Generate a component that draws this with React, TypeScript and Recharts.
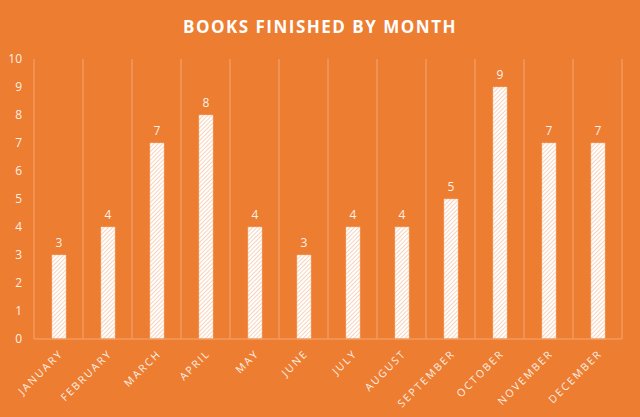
import React from "react";
import { BarChart, Bar, XAxis, YAxis, CartesianGrid, LabelList } from "recharts";

const months = ["JANUARY", "FEBRUARY", "MARCH", "APRIL", "MAY", "JUNE", "JULY", "AUGUST", "SEPTEMBER", "OCTOBER", "NOVEMBER", "DECEMBER"];
const books = [3, 4, 7, 8, 4, 3, 4, 4, 5, 9, 7, 7];
const yTicks = [0, 1, 2, 3, 4, 5, 6, 7, 8, 9, 10];

const data = months.map((m, i) => ({ month: m, books: books[i] }));

const BG = "#ED7D31";
const GRID = "#F29A5F";
const TEXT = "#FDF0E6";
const FONT = "'Open Sans', sans-serif";

export default function App() {
  return (
    <div style={{ position: "absolute", left: 0, top: 0, width: 640, height: 417, background: BG, fontFamily: FONT }}>
      <div
        style={{
          position: "absolute",
          left: 0,
          top: 13,
          width: 640,
          textAlign: "center",
          color: "#FFFFFF",
          fontWeight: 700,
          fontSize: 17,
          letterSpacing: 1.5,
          lineHeight: "28px",
        }}
      >
        BOOKS FINISHED BY MONTH
      </div>
      <BarChart width={640} height={417} data={data} margin={{ top: 59, right: 18, bottom: 8, left: 0 }}>
        <defs>
          <pattern id="hatch" width="3" height="3" patternUnits="userSpaceOnUse" patternTransform="rotate(45)">
            <rect width="3" height="3" fill="#FFFFFF" />
            <line x1="0" y1="0" x2="0" y2="3" stroke="#F6BF9B" strokeWidth="1.4" />
          </pattern>
        </defs>
        <CartesianGrid
          horizontal={false}
          stroke={GRID}
          strokeWidth={1.5}
          verticalCoordinatesGenerator={({ offset }: any) =>
            Array.from({ length: months.length + 1 }, (_, i) => offset.left + (i * offset.width) / months.length)
          }
        />
        <XAxis
          dataKey="month"
          height={70}
          interval={0}
          tickLine={false}
          axisLine={{ stroke: GRID, strokeWidth: 1.5 }}
          angle={-45}
          textAnchor="end"
          tickMargin={4}
          tick={{ fill: TEXT, fontSize: 10.5, letterSpacing: 2, fontFamily: FONT }}
        />
        <YAxis
          width={34}
          domain={[0, 10]}
          ticks={yTicks}
          interval={0}
          tickLine={false}
          axisLine={false}
          tickSize={12}
          tickMargin={0}
          tick={{ fill: TEXT, fontSize: 12, fontFamily: FONT }}
        />
        <Bar dataKey="books" barSize={14} fill="url(#hatch)" stroke="#F7C6A5" strokeWidth={0.5} isAnimationActive={false}>
          <LabelList dataKey="books" position="top" offset={8} fill={TEXT} fontSize={12} fontFamily={FONT} />
        </Bar>
      </BarChart>
    </div>
  );
}
